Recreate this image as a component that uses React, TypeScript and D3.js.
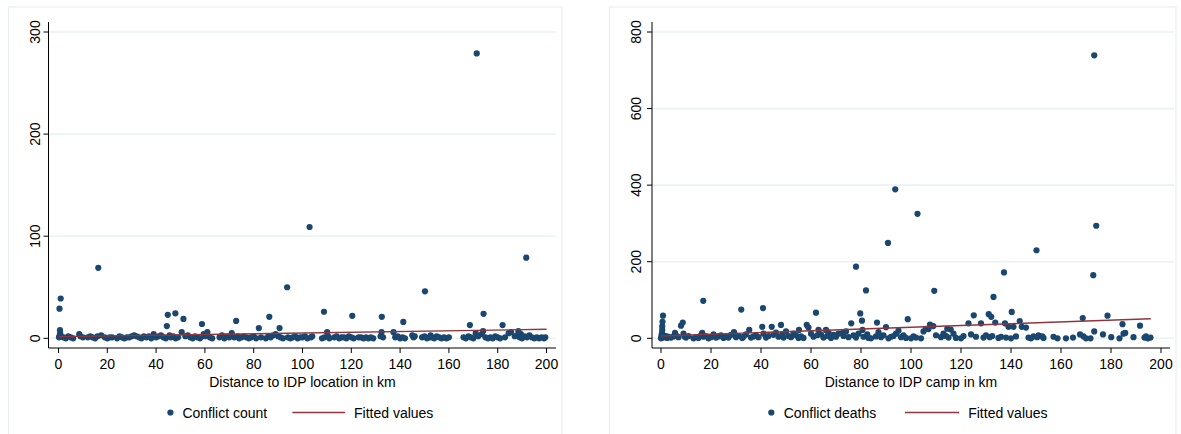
import React from "react";
import * as d3 from "d3";

// distance in km, conflict count
const countPoints: [number, number][] = [
  [0.2, 1], [0.5, 3], [0.7, 5], [0.9, 39], [0.4, 29], [0.6, 8], [1, 2], [2, 1], [3, 0], [4, 2], [5, 1], [6, 0],
  [8.5, 4], [9, 2], [10, 1], [12, 1], [13, 2], [14, 1], [15, 0], [16, 2], [16.3, 69], [17.5, 3], [19, 1], [20, 0],
  [21, 1], [22, 1], [24, 0], [25, 2], [26, 1], [27, 0], [28, 1], [29, 1], [30, 2], [31, 3], [32, 2], [33, 1],
  [34, 0], [35, 2], [36, 1], [37, 2], [38, 0], [39, 4], [40, 1], [41, 2], [42, 3], [43, 1], [44, 0], [44.4, 12],
  [44.8, 23], [45.5, 3], [46, 1], [47, 2], [47.9, 24.5], [48, 0], [49, 1], [50.5, 6], [51.2, 19], [52, 2], [53, 3],
  [54, 1], [55, 0], [56, 2], [57, 1], [58, 0], [58.8, 14], [59.5, 4], [60, 2], [61, 6], [62, 1], [63, 0], [66, 1],
  [67, 3], [68, 0], [69, 2], [70, 1], [71, 5], [72, 1], [72.8, 17], [73.5, 2], [74, 0], [75, 1], [76, 2], [77, 1],
  [78, 0], [79, 1], [80, 2], [81, 0], [82.1, 10], [83, 1], [85, 0], [86, 2], [86.4, 21], [87, 1], [88, 3], [89, 4],
  [90, 2], [90.6, 10], [91, 1], [92, 0], [93.7, 50], [94, 1], [95, 0], [96, 1], [97, 2], [98, 0], [99, 1], [100, 1],
  [101, 2], [102, 0], [102.9, 109], [103.5, 1], [104, 2], [108, 0], [108.8, 26], [109, 1], [110.1, 6], [110.5, 2],
  [111, 0], [113, 1], [114, 2], [115, 0], [116, 1], [117, 1], [118, 0], [119, 2], [120, 1], [120.4, 22], [121, 0],
  [123, 1], [124, 1], [125, 0], [126, 1], [127, 0], [128, 1], [129, 0], [132, 2], [132.4, 6], [132.5, 21], [133, 1],
  [137.3, 6], [138, 1], [139, 2], [140, 0], [141, 1], [141.3, 16], [142, 0], [145, 3], [145.5, 1], [146, 2],
  [149, 1], [150, 2], [150.2, 46], [151, 0], [152, 1], [152.5, 3], [153, 1], [154, 0], [155, 2], [156, 1], [157, 0],
  [158, 1], [159, 0], [160, 1], [166, 1], [167, 0], [168, 2], [168.6, 13], [169, 1], [170, 0], [171, 5], [171.4, 279],
  [172, 2], [173.5, 4], [174, 7], [174.2, 24], [175, 1], [176, 0], [177, 1], [178, 0], [179, 2], [180, 1], [181, 0],
  [182, 13], [183, 1], [184.5, 5], [185.5, 6], [187, 2], [188, 3], [188.5, 7], [189, 1], [189.5, 4], [190, 0],
  [191, 2], [191.7, 79], [192, 1], [193, 3], [194, 1], [195, 0], [196, 1], [197, 0], [198, 1], [199, 0], [199.5, 1],
];

// distance in km, conflict deaths
const deathPoints: [number, number][] = [
  [0, 0], [0.2, 5], [0.3, 10], [0.4, 14], [0.5, 22], [0.5, 31], [0.6, 43], [0.8, 59], [0.7, 2], [1, 8], [1.5, 3],
  [2, 6], [2.5, 1], [3, 4], [4, 2], [5, 5], [5.6, 14], [6, 8], [7, 3], [8, 33], [8.7, 41], [9, 12], [9.5, 4], [10, 2],
  [11, 6], [13, 0], [14, 3], [15, 1], [16, 8], [16.5, 14], [16.9, 98], [17, 4], [18, 6], [19, 0], [20, 3], [21, 10],
  [22, 2], [23, 5], [24, 8], [25, 1], [26, 4], [27, 2], [28, 9], [29.2, 16], [30, 3], [31, 6], [32.1, 75], [32.5, 1],
  [33, 4], [34, 10], [35.3, 22], [36, 2], [37, 5], [38, 8], [39, 3], [40.5, 30], [40.8, 79], [41, 12], [42, 2],
  [43, 6], [44.3, 30], [45, 9], [46, 15], [47, 4], [48, 35], [48.5, 10], [49, 2], [50, 18], [51, 6], [52, 3],
  [53, 12], [54, 8], [55, 1], [55.2, 22], [56, 5], [57, 1], [58.3, 35], [59, 28], [60, 12], [61, 4], [62, 67],
  [62.5, 8], [63, 22], [64, 10], [65, 2], [66, 22], [66.5, 6], [67, 15], [68, 1], [69, 9], [70, 4], [71, 12],
  [72.7, 14], [73, 6], [74, 18], [75, 3], [76.1, 39], [77, 8], [78, 2], [78, 187], [79, 12], [79.7, 65], [80.4, 46],
  [80.6, 22], [81, 4], [82, 125], [82.5, 10], [83, 1], [84, 0], [86, 5], [86.4, 41], [87, 16], [88, 3], [89, 8],
  [90, 29], [90.8, 249], [91, 0], [92, 4], [93, 6], [93.7, 389], [94, 12], [95, 20], [96, 3], [97, 8], [98, 1],
  [98.7, 50], [100, 0], [101, 5], [102, 2], [102.6, 325], [104, 0], [105, 18], [106, 25], [107, 24], [107.6, 36],
  [108.9, 32], [109.3, 124], [110, 8], [112, 3], [113, 12], [114, 6], [114.5, 25], [115, 2], [115.9, 23], [117, 12],
  [118, 1], [120, 0], [121, 6], [123, 39], [124, 10], [125.1, 60], [126, 4], [128, 39], [129, 2], [130, 8],
  [131.1, 63], [131.5, 3], [132.1, 56], [132.5, 6], [133, 108], [133.7, 41], [135, 1], [136, 4], [137.2, 172],
  [137.6, 39], [138, 2], [139, 30], [140.3, 69], [140, 0], [141, 30], [142, 5], [143.5, 45], [144.3, 30], [146, 28],
  [147, 2], [148, 0], [149, 5], [150.2, 230], [150.5, 3], [151, 8], [152.5, 5], [153, 1], [157, 4], [158.6, 0],
  [162, 0], [164.8, 2], [167.6, 10], [168.7, 53], [169, 5], [170, 0], [171.8, 0], [172.9, 165], [173.3, 739],
  [173.3, 18], [174.1, 294], [176.8, 10], [178.6, 59], [180.1, 3], [183.4, 0], [184.6, 37], [185, 12], [185.7, 14],
  [189, 3], [191.6, 33], [193.4, 2], [194, 5], [194.7, 0], [195.8, 2],
];

// fitted values at both ends of the regression line [x, y]
const countFit: [number, number][] = [[0, 1.6], [200, 8.8]];
const deathFit: [number, number][] = [[0, 6], [195.9, 51]];

const xTicks = [0, 20, 40, 60, 80, 100, 120, 140, 160, 180, 200];
const countTicks = [0, 100, 200, 300];
const deathTicks = [0, 200, 400, 600, 800];

const NAVY = "#1a476f";
const MAROON = "#90353b";
const GRID = "#eaf2f3";
const FONT = "'Liberation Sans', Arial, Helvetica, sans-serif";

type PanelProps = {
  points: [number, number][];
  fit: [number, number][];
  yTicks: number[];
  yMax: number;
  xTitle: string;
  seriesName: string;
  frame: [number, number];
  axisX: number;
  x0: number;
  x200: number;
  plotRight: number;
  gridRight: number;
  labelX: number;
  legend: { dot: number; text: number; line: [number, number]; fitText: number };
};

const Panel = (p: PanelProps) => {
  const x = d3.scaleLinear().domain([0, 200]).range([p.x0, p.x200]);
  const y = d3.scaleLinear().domain([0, p.yMax]).range([338.3, 32]);
  const axisY = 348;
  const line = d3
    .line<[number, number]>()
    .x((d) => x(d[0]))
    .y((d) => y(d[1]));

  return (
    <g fontFamily={FONT} fontSize={14} fill="#000">
      <rect x={p.frame[0]} y={7} width={p.frame[1] - p.frame[0]} height={440} fill="#fff" stroke="#e9eff1" strokeWidth={1.2} />
      {p.yTicks.map((t) => (
        <line key={"g" + t} x1={p.axisX} x2={p.gridRight} y1={y(t)} y2={y(t)} stroke={GRID} strokeWidth={1.6} />
      ))}
      {p.points.map((d, i) => (
        <circle key={i} cx={x(d[0])} cy={y(d[1])} r={3.1} fill={NAVY} />
      ))}
      <path d={line(p.fit) || ""} fill="none" stroke={MAROON} strokeWidth={1.4} />
      <line x1={p.axisX} x2={p.axisX} y1={22} y2={axisY} stroke="#000" strokeWidth={1} />
      <line x1={p.axisX} x2={p.plotRight} y1={axisY} y2={axisY} stroke="#000" strokeWidth={1} />
      {p.yTicks.map((t) => (
        <g key={"y" + t}>
          <line x1={p.axisX - 5} x2={p.axisX} y1={y(t)} y2={y(t)} stroke="#000" />
          <text transform={`translate(${p.labelX},${y(t)}) rotate(-90)`} textAnchor="middle">
            {t}
          </text>
        </g>
      ))}
      {xTicks.map((t) => (
        <g key={"x" + t}>
          <line x1={x(t)} x2={x(t)} y1={axisY} y2={axisY + 5} stroke="#000" />
          <text x={x(t)} y={369} textAnchor="middle">
            {t}
          </text>
        </g>
      ))}
      <text x={(p.x0 + p.x200) / 2} y={387} textAnchor="middle">
        {p.xTitle}
      </text>
      <circle cx={p.legend.dot} cy={412.5} r={3.1} fill={NAVY} />
      <text x={p.legend.text} y={418}>
        {p.seriesName}
      </text>
      <line x1={p.legend.line[0]} x2={p.legend.line[1]} y1={412.5} y2={412.5} stroke={MAROON} strokeWidth={1.4} />
      <text x={p.legend.fitText} y={418}>
        Fitted values
      </text>
    </g>
  );
};

export default function App() {
  return (
    <svg
      width={1181}
      height={434}
      style={{ position: "absolute", left: 0, top: 0, display: "block", background: "#fff" }}
    >
      <Panel
        points={countPoints}
        fit={countFit}
        yTicks={countTicks}
        yMax={300}
        xTitle="Distance to IDP location in km"
        seriesName="Conflict count"
        frame={[8.5, 562]}
        axisX={48.5}
        x0={58.5}
        x200={546.5}
        plotRight={556}
        gridRight={556}
        labelX={39.8}
        legend={{ dot: 170.4, text: 182.4, line: [292.4, 345], fitText: 354 }}
      />
      <Panel
        points={deathPoints}
        fit={deathFit}
        yTicks={deathTicks}
        yMax={800}
        xTitle="Distance to IDP camp in km"
        seriesName="Conflict deaths"
        frame={[609.5, 1176]}
        axisX={652}
        x0={661}
        x200={1161}
        plotRight={1170}
        gridRight={1174}
        labelX={641}
        legend={{ dot: 771.3, text: 783.7, line: [905, 959], fitText: 968.2 }}
      />
    </svg>
  );
}
